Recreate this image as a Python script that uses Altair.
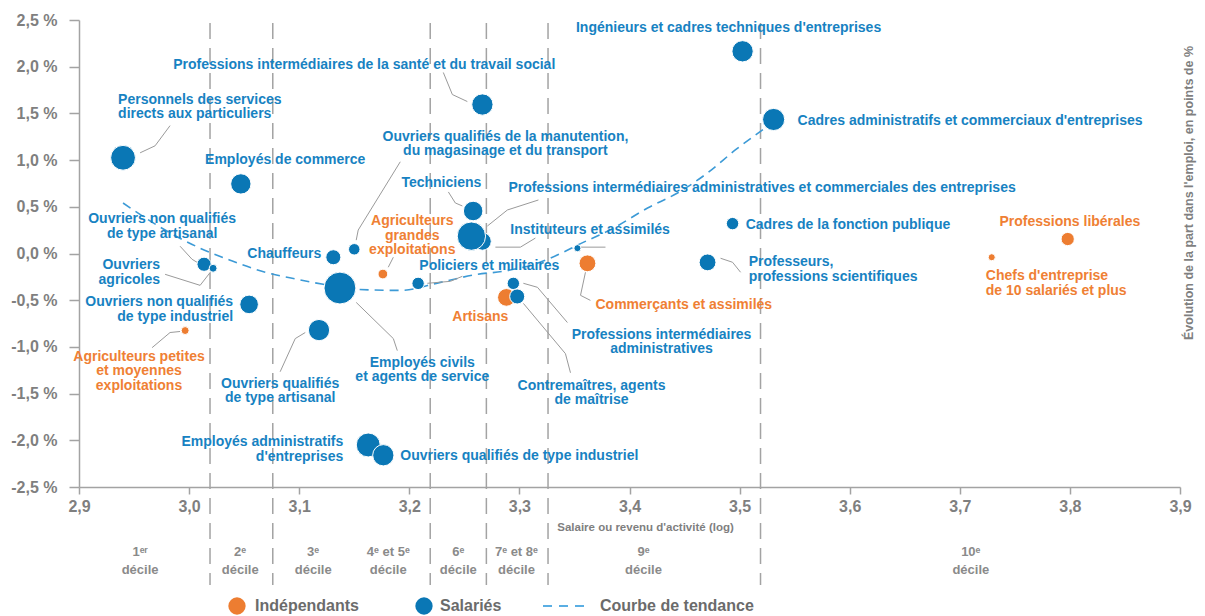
import altair as alt
import pandas as pd

# ---------------- data ----------------
categories = [
    "Personnels des services directs aux particuliers",
    "Employés de commerce",
    "Ouvriers non qualifiés de type artisanal",
    "Ouvriers agricoles",
    "Ouvriers non qualifiés de type industriel",
    "Agriculteurs petites et moyennes exploitations",
    "Ouvriers qualifiés de type artisanal",
    "Chauffeurs",
    "Ouvriers qualifiés de la manutention, du magasinage et du transport",
    "Employés civils et agents de service",
    "Agriculteurs grandes exploitations",
    "Policiers et militaires",
    "Techniciens",
    "Instituteurs et assimilés",
    "Professions intermédiaires administratives et commerciales des entreprises",
    "Professions intermédiaires de la santé et du travail social",
    "Artisans",
    "Professions intermédiaires administratives",
    "Contremaîtres, agents de maîtrise",
    "(sans libellé)",
    "Commerçants et assimilés",
    "Cadres de la fonction publique",
    "Professeurs, professions scientifiques",
    "Ingénieurs et cadres techniques d'entreprises",
    "Cadres administratifs et commerciaux d'entreprises",
    "Professions libérales",
    "Chefs d'entreprise de 10 salariés et plus",
    "Employés administratifs d'entreprises",
    "Ouvriers qualifiés de type industriel",
]
statut = [
    "Salariés", "Salariés", "Salariés", "Salariés", "Salariés",
    "Indépendants", "Salariés", "Salariés", "Salariés", "Salariés",
    "Indépendants", "Salariés", "Salariés", "Salariés", "Salariés",
    "Salariés", "Indépendants", "Salariés", "Salariés", "Salariés",
    "Indépendants", "Salariés", "Salariés", "Salariés", "Salariés",
    "Indépendants", "Indépendants", "Salariés", "Salariés",
]
salaire_log = [
    2.940, 3.047, 3.0136, 3.0218, 3.0545,
    2.9964, 3.118, 3.131, 3.150, 3.137,
    3.176, 3.208, 3.258, 3.2664, 3.2564,
    3.2664, 3.2882, 3.2945, 3.298, 3.3527,
    3.3618, 3.4936, 3.4709, 3.5027, 3.5309,
    3.798, 3.729, 3.1627, 3.1764,
]
evolution = [
    1.025, 0.745, -0.115, -0.158, -0.545,
    -0.825, -0.82, -0.04, 0.045, -0.37,
    -0.22, -0.32, 0.455, 0.13, 0.186,
    1.595, -0.47, -0.32, -0.46, 0.057,
    -0.105, 0.32, -0.095, 2.165, 1.435,
    0.155, -0.04, -2.05, -2.16,
]
poids = [
    196, 132, 64, 20, 110,
    20, 144, 72, 42, 324,
    30, 49, 121, 100, 256,
    144, 100, 49, 72, 16,
    90, 49, 90, 144, 156,
    56, 16, 182, 144,
]

# label texts and anchors (data units; y = first line of the label)
label_text = [
    "Personnels des services\ndirects aux particuliers",
    "Employés de commerce",
    "Ouvriers non qualifiés\nde type artisanal",
    "Ouvriers\nagricoles",
    "Ouvriers non qualifiés\nde type industriel",
    "Agriculteurs petites\net moyennes\nexploitations",
    "Ouvriers qualifiés\nde type artisanal",
    "Chauffeurs",
    "Ouvriers qualifiés de la manutention,\ndu magasinage et du transport",
    "Employés civils\net agents de service",
    "Agriculteurs\ngrandes\nexploitations",
    "Policiers et militaires",
    "Techniciens",
    "Instituteurs et assimilés",
    "Professions intermédiaires administratives et commerciales des entreprises",
    "Professions intermédiaires de la santé et du travail social",
    "Artisans",
    "Professions intermédiaires\nadministratives",
    "Contremaîtres, agents\nde maîtrise",
    "",
    "Commerçants et assimilés",
    "Cadres de la fonction publique",
    "Professeurs,\nprofessions scientifiques",
    "Ingénieurs et cadres techniques d'entreprises",
    "Cadres administratifs et commerciaux d'entreprises",
    "Professions libérales",
    "Chefs d'entreprise\nde 10 salariés et plus",
    "Employés administratifs\nd'entreprises",
    "Ouvriers qualifiés de type industriel",
]
label_x = [
    2.9355, 3.0145, 2.9755, 2.9736, 3.040,
    2.9545, 3.0827, 3.120, 3.2873, 3.2118,
    3.2027, 3.2091, 3.2291, 3.2918, 3.290,
    3.1591, 3.2645, 3.4291, 3.3655, 3.3527,
    3.3691, 3.5055, 3.5082, 3.490, 3.5527,
    3.800, 3.7236, 3.140, 3.1918,
]
label_y = [
    1.648, 1.003, 0.369, -0.126, -0.524,
    -1.104, -1.394, -0.008, 1.250, -1.169,
    0.347, -0.137, 0.756, 0.251, 0.702,
    2.023, -0.684, -0.868, -1.415, 0.057,
    -0.556, 0.304, -0.094, 2.412, 1.422,
    0.337, -0.244, -2.019, -2.170,
]
label_align = [
    "left", "left", "center", "right", "right",
    "center", "center", "right", "center", "center",
    "center", "left", "center", "left", "left",
    "center", "center", "center", "center", "left",
    "left", "left", "left", "center", "left",
    "center", "left", "right", "left",
]

# leader lines (data units)
leaders = [
    [(2.9555, 1.078), (2.9691, 1.153), (2.9827, 1.369)],
    [(3.1518, 0.143), (3.1536, 0.251), (3.1918, 0.982)],
    [(2.9918, 0.078), (3.0027, -0.062), (3.0073, -0.095)],
    [(2.9782, -0.223), (3.0100, -0.341), (3.0200, -0.190)],
    [(2.9664, -1.008), (2.9827, -0.846), (2.9918, -0.835)],
    [(3.0827, -1.266), (3.0964, -0.911), (3.1055, -0.846)],
    [(3.1518, -0.524), (3.1855, -0.911), (3.1891, -1.040)],
    [(3.1809, -0.147), (3.1855, -0.040)],
    [(3.2164, -0.319), (3.2373, -0.298), (3.2482, -0.244)],
    [(3.2355, 0.659), (3.2418, 0.541), (3.2482, 0.509)],
    [(3.2709, 0.294), (3.2891, 0.466), (3.3173, 0.573)],
    [(3.2782, 0.068), (3.3009, 0.068), (3.3145, 0.165)],
    [(3.3555, 0.068), (3.3782, 0.068)],
    [(3.2309, 1.938), (3.2391, 1.702), (3.2527, 1.627)],
    [(3.3036, -0.319), (3.3164, -0.362), (3.3436, -0.739)],
    [(3.3036, -0.534), (3.3418, -1.072), (3.3464, -1.277)],
    [(3.3600, -0.201), (3.3555, -0.448), (3.3645, -0.502)],
    [(3.4827, -0.051), (3.4936, -0.094), (3.5009, -0.201)],
]

# trend curve
trend_x = [2.940, 2.9736, 3.010, 3.0373, 3.0691, 3.0982, 3.1218, 3.1509, 3.1918,
           3.2282, 3.2618, 3.2855, 3.3164, 3.340, 3.3527, 3.3855, 3.4164, 3.4436,
           3.4709, 3.4964, 3.5236]
trend_y = [0.541, 0.283, 0.057, -0.072, -0.201, -0.276, -0.330, -0.384, -0.395,
           -0.309, -0.223, -0.190, -0.104, 0.014, 0.089, 0.272, 0.487, 0.648,
           0.863, 1.111, 1.347]

# decile boundaries and labels
decile_bounds = [3.019, 3.076, 3.219, 3.270, 3.326, 3.519]
decile_labels = ["1ᵉʳ\ndécile", "2ᵉ\ndécile", "3ᵉ\ndécile", "4ᵉ et 5ᵉ\ndécile",
                 "6ᵉ\ndécile", "7ᵉ et 8ᵉ\ndécile", "9ᵉ\ndécile", "10ᵉ\ndécile"]
decile_label_x = [2.9555, 3.0464, 3.1127, 3.1809, 3.2445, 3.2973, 3.4127, 3.710]

x_ticks = [2.9, 3.0, 3.1, 3.2, 3.3, 3.4, 3.5, 3.6, 3.7, 3.8, 3.9]
y_ticks = [-2.5, -2.0, -1.5, -1.0, -0.5, 0.0, 0.5, 1.0, 1.5, 2.0, 2.5]

# ---------------- styling ----------------
W, H = 1101, 467
FONT = "Liberation Sans"
BLUE = "#0a77b5"
ORANGE = "#ed7d31"
TXT_BLUE = "#1782c2"
TXT_ORANGE = "#ef8034"
GRAY = "#7f7f7f"
AXIS_GRAY = "#a3a3a3"
TREND = "#3c9ad6"

df = pd.DataFrame({
    "categorie": categories, "statut": statut, "salaire": salaire_log,
    "evolution": evolution, "poids": poids,
    "label": label_text, "lx": label_x, "ly": label_y, "align": label_align,
})
df["tcolor"] = df["statut"].map({"Salariés": TXT_BLUE, "Indépendants": TXT_ORANGE})

lead_rows = []
for i, line in enumerate(leaders):
    for k, (lx, ly) in enumerate(line):
        lead_rows.append({"id": i, "k": k, "x": lx, "y": ly})
lead_df = pd.DataFrame(lead_rows)

trend_df = pd.DataFrame({"x": trend_x, "y": trend_y})
dec_df = pd.DataFrame({"b": decile_bounds})
declab_df = pd.DataFrame({"x": decile_label_x, "t": decile_labels})

x_scale = alt.Scale(domain=[2.9, 3.9], nice=False, zero=False)
y_scale = alt.Scale(domain=[-2.5, 2.5], nice=False, zero=False)

x_axis = alt.Axis(
    values=x_ticks, grid=False,
    labelExpr="replace(format(datum.value, '.1f'), '.', ',')",
    domainColor=AXIS_GRAY, domainWidth=1.5, tickColor=AXIS_GRAY, tickWidth=1.5,
    tickSize=7, labelFont=FONT, labelFontWeight="bold", labelFontSize=16,
    labelColor=GRAY, labelPadding=4, labelFlush=False,
    title="Salaire ou revenu d'activité (log)", titleFont=FONT,
    titleFontSize=11.5, titleFontWeight="bold", titleColor=GRAY,
    titleX=566, titleY=40, titleBaseline="middle", titleAlign="center",
)
y_axis = alt.Axis(
    values=y_ticks, grid=False,
    labelExpr="replace(replace(format(datum.value, '.1f'), '.', ','), '\u2212', '-') + ' %'",
    domainColor=AXIS_GRAY, domainWidth=1.5, tickColor=AXIS_GRAY, tickWidth=1.5,
    tickSize=10, labelFont=FONT, labelFontWeight="bold", labelFontSize=16,
    labelColor=GRAY, labelPadding=12, title=None,
)

X = lambda f: alt.X(f, type="quantitative", scale=x_scale, axis=x_axis)
Y = lambda f: alt.Y(f, type="quantitative", scale=y_scale, axis=y_axis)

deciles = alt.Chart(dec_df).mark_rule(
    color=AXIS_GRAY, strokeWidth=1.5, strokeDash=[16, 9]
).encode(x=X("b"), y=alt.value(3), y2=alt.value(H + 98))

trend = alt.Chart(trend_df).mark_line(
    color=TREND, strokeWidth=1.6, strokeDash=[9, 6], interpolate="monotone"
).encode(x=X("x"), y=Y("y"))

lead = alt.Chart(lead_df).mark_line(color="#9a9a9a", strokeWidth=1).encode(
    x=X("x"), y=Y("y"), detail="id:N", order="k:Q")

points = alt.Chart(df).mark_circle(opacity=1, stroke="white", strokeWidth=1).encode(
    x=X("salaire"),
    y=Y("evolution"),
    size=alt.Size("poids:Q", scale=alt.Scale(domain=[0, 100], range=[0, 314.16]), legend=None),
    color=alt.Color("statut:N", scale=alt.Scale(domain=["Indépendants", "Salariés"],
                                                 range=[ORANGE, BLUE]), legend=None),
    tooltip=["categorie:N", "statut:N", "salaire:Q", "evolution:Q"],
)

def label_layer(al):
    return alt.Chart(df).transform_filter(
        (alt.datum.align == al) & (alt.datum.label != "")
    ).mark_text(
        align=al, baseline="middle", font=FONT, fontSize=14, fontWeight="bold",
        lineBreak="\n", lineHeight=14.5,
    ).encode(x=X("lx"), y=Y("ly"), text="label:N", color=alt.Color("tcolor:N", scale=None))

labels = [label_layer(a) for a in ["left", "center", "right"]]

dec_labels = alt.Chart(declab_df).mark_text(
    font=FONT, fontSize=13, fontWeight="bold", color="#8a8a8a",
    baseline="middle", align="center", lineBreak="\n", lineHeight=18,
).encode(x=X("x"), y=alt.value(H + 65), text="t:N")

one = pd.DataFrame({"k": [0]})
LY = H + 119
leg = [
    alt.Chart(one).mark_circle(color=ORANGE, opacity=1, size=300).encode(
        x=alt.value(158), y=alt.value(LY)),
    alt.Chart(one).mark_text(align="left", baseline="middle", font=FONT, fontSize=16,
                             fontWeight="bold", color="#6b6b6b").encode(
        x=alt.value(176), y=alt.value(LY), text=alt.value("Indépendants")),
    alt.Chart(one).mark_circle(color=BLUE, opacity=1, size=300).encode(
        x=alt.value(345), y=alt.value(LY)),
    alt.Chart(one).mark_text(align="left", baseline="middle", font=FONT, fontSize=16,
                             fontWeight="bold", color="#6b6b6b").encode(
        x=alt.value(361), y=alt.value(LY), text=alt.value("Salariés")),
    alt.Chart(one).mark_rule(color="#5aaee3", strokeWidth=2, strokeDash=[9, 7]).encode(
        x=alt.value(464), x2=alt.value(508), y=alt.value(LY)),
    alt.Chart(one).mark_text(align="left", baseline="middle", font=FONT, fontSize=16,
                             fontWeight="bold", color="#6b6b6b").encode(
        x=alt.value(521), y=alt.value(LY), text=alt.value("Courbe de tendance")),
]

right_title = alt.Chart(one).mark_text(
    angle=270, align="center", baseline="middle", font=FONT, fontSize=12.5,
    fontWeight="bold", color=GRAY,
).encode(x=alt.value(1110), y=alt.value(173),
         text=alt.value("Évolution de la part dans l'emploi, en points de %"))

chart = alt.layer(
    deciles, trend, lead, points, *labels, dec_labels, *leg, right_title
).properties(
    width=W, height=H,
    padding={"left": 71, "top": 12, "right": 17, "bottom": 132},
    autosize=alt.AutoSizeParams(type="none"),
).configure_view(stroke=None)

chart.save("out.html", embed_options={"renderer": "svg", "actions": False})
